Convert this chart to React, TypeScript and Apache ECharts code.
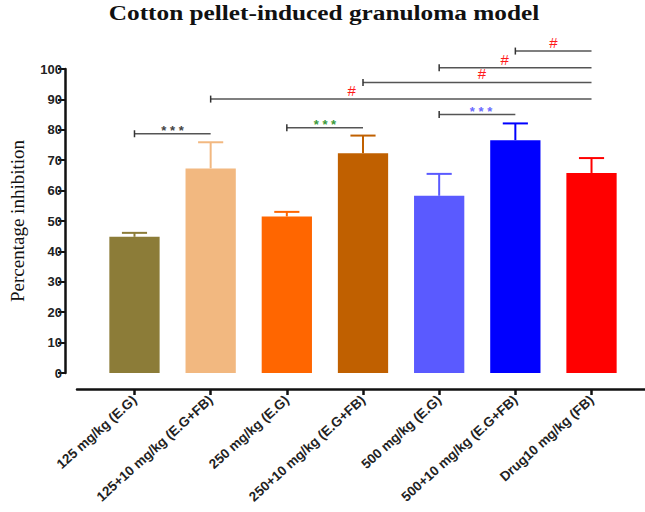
import React, { useEffect, useRef } from "react";
import * as echarts from "echarts";

const categories = [
  "125 mg/kg (E.G)",
  "125+10 mg/kg (E.G+FB)",
  "250 mg/kg (E.G)",
  "250+10 mg/kg (E.G+FB)",
  "500 mg/kg (E.G)",
  "500+10 mg/kg (E.G+FB)",
  "Drug10 mg/kg (FB)",
];
const means = [44.8, 67.3, 51.5, 72.3, 58.3, 76.6, 65.8];
const sems = [1.3, 8.6, 1.5, 5.8, 7.2, 5.5, 4.9];
const barColors = ["#8C7C38", "#F2B880", "#FF6600", "#C06000", "#5A5AFF", "#0000FF", "#FF0000"];

// significance brackets: from category, to category, level, label, label colour, label position (fraction)
const bracketFrom = [0, 2, 4, 1, 3, 4, 5];
const bracketTo = [1, 3, 5, 6, 6, 6, 6];
const bracketLevel = [78.7, 80.7, 85.0, 90.1, 95.6, 100.4, 105.9];
const bracketLabels = ["* * *", "* * *", "* * *", "#", "#", "#", "#"];
const bracketLabelColors = ["#444444", "#3A9A3A", "#6A6AFF", "#FF1A1A", "#FF1A1A", "#FF1A1A", "#FF1A1A"];
const bracketLabelAt = [0.5, 0.5, 0.55, 0.37, 0.52, 0.43, 0.5];

const titleText = "Cotton pellet-induced granuloma model";
const yTicks = { min: 0, max: 100, interval: 10 };

export default function App() {
  const ref = useRef<HTMLDivElement>(null);
  useEffect(() => {
    if (!ref.current) return;
    const chart = echarts.init(ref.current, undefined, { renderer: "svg" });
    const errData = means.map((m, i) => [i, m, sems[i]]);
    const brData = bracketFrom.map((f, i) => [f, bracketTo[i], bracketLevel[i]]);
    chart.setOption({
      animation: false,
      backgroundColor: "#ffffff",
      graphic: [
        {
          type: "text",
          x: 324,
          y: 2,
          scaleX: 1.15,
          style: {
            text: titleText,
            fontFamily: "Liberation Serif",
            fontWeight: "bold",
            fontSize: 22,
            fill: "#111",
            align: "center",
            verticalAlign: "top",
          },
        },
      ],
      grid: [
        { left: 91.4, right: 15.4, top: 69, bottom: 139 },
        { left: 77, right: 0, top: 69, bottom: 139 },
      ],
      xAxis: [
        {
          type: "category",
          gridIndex: 0,
          data: categories,
          offset: 16,
          axisLine: { show: false, onZero: false },
          axisTick: {
            show: true,
            alignWithLabel: true,
            length: 6,
            lineStyle: { color: "#111", width: 2.5 },
          },
          axisLabel: {
            rotate: 42,
            fontFamily: "Liberation Sans",
            fontWeight: "bold",
            fontSize: 13.5,
            color: "#222",
            margin: 9,
          },
          splitLine: { show: false },
        },
        {
          type: "value",
          gridIndex: 1,
          min: 0,
          max: 1,
          offset: 16,
          axisLine: { show: true, onZero: false, lineStyle: { color: "#111", width: 2.5 } },
          axisTick: { show: false },
          axisLabel: { show: false },
          splitLine: { show: false },
        },
      ],
      yAxis: [
        {
          type: "value",
          gridIndex: 0,
          min: yTicks.min,
          max: yTicks.max,
          interval: yTicks.interval,
          offset: 31.4,
          name: "Percentage inhibition",
          nameLocation: "middle",
          nameRotate: 90,
          nameGap: 38,
          nameTextStyle: {
            fontFamily: "Liberation Serif",
            fontSize: 19,
            color: "#111",
          },
          axisLine: { show: true, onZero: false, lineStyle: { color: "#111", width: 2.5 } },
          axisTick: { show: true, length: 7, lineStyle: { color: "#111", width: 2 } },
          axisLabel: {
            fontFamily: "Liberation Sans",
            fontWeight: "bold",
            fontSize: 13,
            color: "#222",
            margin: 3,
          },
          splitLine: { show: false },
        },
        {
          type: "value",
          gridIndex: 1,
          show: false,
          min: 0,
          max: 1,
        },
      ],
      series: [
        {
          type: "bar",
          xAxisIndex: 0,
          yAxisIndex: 0,
          barWidth: "66%",
          data: means.map((v, i) => ({
            value: v,
            itemStyle: { color: barColors[i] },
          })),
        },
        {
          type: "custom",
          xAxisIndex: 0,
          yAxisIndex: 0,
          clip: false,
          data: errData,
          encode: { x: 0, y: 1 },
          renderItem: (params: any, api: any) => {
            const i = api.value(0);
            const v = api.value(1);
            const e = api.value(2);
            const p0 = api.coord([i, v]);
            const p1 = api.coord([i, v + e]);
            const half = api.size([1, 0])[0] * 0.165;
            const color = barColors[params.dataIndex];
            return {
              type: "group",
              children: [
                {
                  type: "line",
                  shape: { x1: p0[0], y1: p0[1], x2: p1[0], y2: p1[1] },
                  style: { stroke: color, lineWidth: 2 },
                },
                {
                  type: "line",
                  shape: { x1: p1[0] - half, y1: p1[1], x2: p1[0] + half, y2: p1[1] },
                  style: { stroke: color, lineWidth: 2 },
                },
              ],
            };
          },
        },
        {
          type: "custom",
          xAxisIndex: 0,
          yAxisIndex: 0,
          clip: false,
          data: brData,
          encode: { x: [0, 1], y: 2 },
          renderItem: (params: any, api: any) => {
            const idx = params.dataIndex;
            const a = api.coord([api.value(0), api.value(2)]);
            const b = api.coord([api.value(1), api.value(2)]);
            const isHash = bracketLabels[idx] === "#";
            const tx = a[0] + (b[0] - a[0]) * bracketLabelAt[idx];
            return {
              type: "group",
              children: [
                {
                  type: "line",
                  shape: { x1: a[0], y1: a[1], x2: b[0], y2: b[1] },
                  style: { stroke: "#555", lineWidth: 1.5 },
                },
                {
                  type: "line",
                  shape: { x1: a[0], y1: a[1] - 3.5, x2: a[0], y2: a[1] + 3.5 },
                  style: { stroke: "#333", lineWidth: 1.5 },
                },
                {
                  type: "text",
                  x: tx,
                  y: a[1] - (isHash ? 1 : -3),
                  style: {
                    text: bracketLabels[idx],
                    fill: bracketLabelColors[idx],
                    fontFamily: "Liberation Sans",
                    fontWeight: isHash ? "normal" : "bold",
                    fontSize: isHash ? 15 : 13,
                    align: "center",
                    verticalAlign: "bottom",
                  },
                },
              ],
            };
          },
        },
      ],
    });
    return () => chart.dispose();
  }, []);
  return (
    <div
      ref={ref}
      style={{ position: "fixed", left: 0, top: 0, width: 645, height: 512 }}
    />
  );
}
